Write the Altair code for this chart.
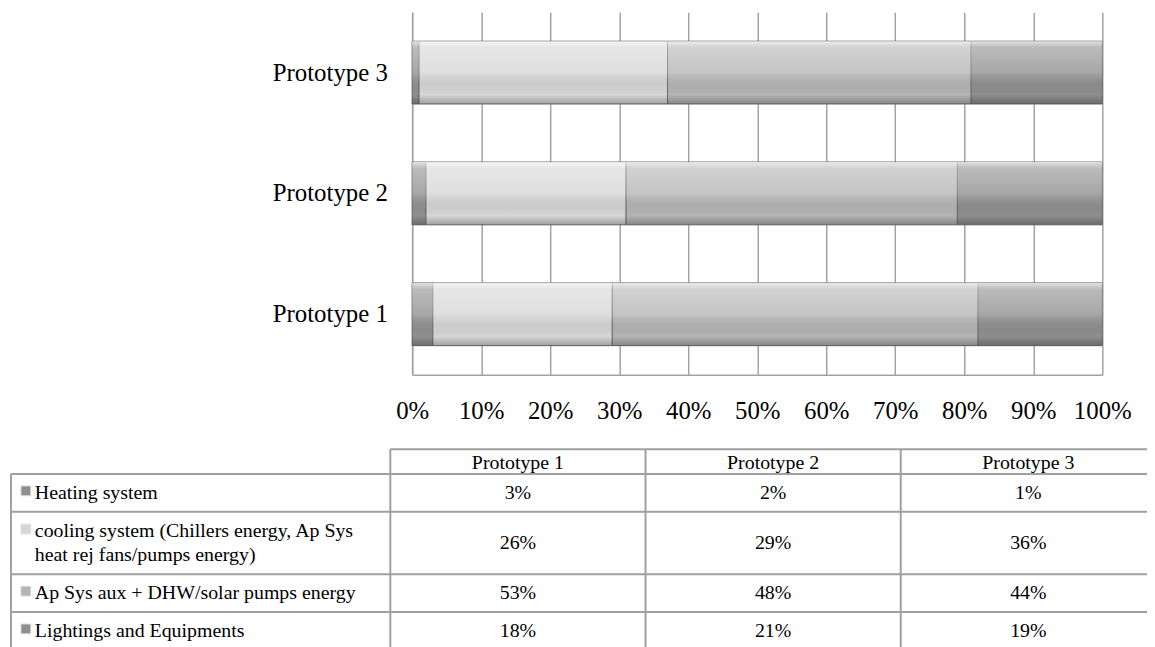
import altair as alt
import pandas as pd

# ---------------- data ----------------
prototypes = ["Prototype 1", "Prototype 2", "Prototype 3"]
series_lines = [
    ["Heating system"],
    ["cooling system (Chillers energy, Ap Sys", "heat rej fans/pumps energy)"],
    ["Ap Sys aux + DHW/solar pumps energy"],
    ["Lightings and Equipments"],
]
heating = [3, 2, 1]
cooling = [26, 29, 36]
ap_sys = [53, 48, 44]
lightings = [18, 21, 19]
x_ticks = [0, 0.1, 0.2, 0.3, 0.4, 0.5, 0.6, 0.7, 0.8, 0.9, 1.0]

series = [" ".join(l) for l in series_lines]
values = [heating, cooling, ap_sys, lightings]

# ---------------- styles / layout ----------------
series_colors = ["#8f8f8f", "#d6d6d6", "#b4b4b4", "#8e8e8e"]
grid_grey = "#a3a3a3"
table_grey = "#a0a0a0"
serif = "Liberation Serif"

PLOT_L, PLOT_T = 415, 10          # page position of the plot area
W, H = 695, 365
TOTAL_W, TOTAL_H = 1147, 639
TABLE_TOP = 450
HEADER_H = 25
LINE_H = 24
COL_X = [11, 393, 650, 907, 1164]


def rx(px):
    return px - PLOT_L


def ry(py):
    return py - PLOT_T


# bars
bar_rows = []
for i, s in enumerate(series):
    for j, p in enumerate(prototypes):
        bar_rows.append({"proto": p, "series": s, "idx": i, "value": values[i][j]})
bar_df = pd.DataFrame(bar_rows)

# table geometry
row_tops = [TABLE_TOP, TABLE_TOP + HEADER_H]
for lines in series_lines:
    row_tops.append(row_tops[-1] + 13 + 25 * len(lines))

rule_rows = []
for k, y in enumerate(row_tops):
    x_start = COL_X[1] if k == 0 else COL_X[0]
    rule_rows.append({"x1": rx(x_start), "x2": rx(COL_X[-1]), "y1": ry(y), "y2": ry(y)})
rule_rows.append({"x1": rx(COL_X[0]), "x2": rx(COL_X[0]), "y1": ry(row_tops[1]), "y2": ry(row_tops[-1])})
for cx in COL_X[1:-1]:
    rule_rows.append({"x1": rx(cx), "x2": rx(cx), "y1": ry(row_tops[0]), "y2": ry(row_tops[-1])})
rule_df = pd.DataFrame(rule_rows)

center_rows = []
for j, p in enumerate(prototypes):
    cx = (COL_X[j + 1] + COL_X[j + 2]) / 2
    center_rows.append({"tx": rx(cx), "ty": ry((row_tops[0] + row_tops[1]) / 2 + 1), "label": p})
    for i in range(len(series)):
        cy = (row_tops[i + 1] + row_tops[i + 2]) / 2
        center_rows.append({"tx": rx(cx), "ty": ry(cy), "label": f"{values[i][j]}%"})
center_df = pd.DataFrame(center_rows)

label_rows = []
icon_rows = []
for i, (s, lines) in enumerate(zip(series, series_lines)):
    cy = (row_tops[i + 1] + row_tops[i + 2]) / 2
    first = cy - LINE_H / 2 * (len(lines) - 1)
    label_rows.append({"tx": rx(35), "ty": ry(first), "label": "\n".join(lines)})
    icon_rows.append({"tx": rx(26), "ty": ry(first - 2), "series": s})
label_df = pd.DataFrame(label_rows)
icon_df = pd.DataFrame(icon_rows)

# ---------------- chart ----------------
color = alt.Color("series:N", scale=alt.Scale(domain=series, range=series_colors), legend=None)
x_enc = alt.X(
    "value:Q",
    stack="normalize",
    scale=alt.Scale(domain=[0, 1]),
    axis=alt.Axis(
        values=x_ticks, format=".0%", title=None, grid=True, gridColor=grid_grey,
        gridWidth=1.5, domainColor=grid_grey, domainWidth=1.5, ticks=False,
        labelPadding=24, labelFont=serif, labelFontSize=25,
        labelColor="#000000", labelOverlap=False, labelFlush=False,
    ),
)
y_enc = alt.Y(
    "proto:N",
    sort=["Prototype 3", "Prototype 2", "Prototype 1"],
    scale=alt.Scale(paddingInner=0.48, paddingOuter=0.24),
    axis=alt.Axis(
        title=None, ticks=False, labelPadding=25, labelFont=serif, labelFontSize=25,
        labelColor="#000000", domainColor=grid_grey, domainWidth=1.5, grid=False,
    ),
)
order = alt.Order("idx:Q")

shade_grad = alt.Gradient(
    gradient="linear", x1=0, x2=0, y1=0, y2=1,
    stops=[
        alt.GradientStop(color="rgba(255,255,255,0.75)", offset=0),
        alt.GradientStop(color="rgba(255,255,255,0.4)", offset=0.1),
        alt.GradientStop(color="rgba(255,255,255,0.22)", offset=0.5),
        alt.GradientStop(color="rgba(0,0,0,0.0)", offset=0.85),
        alt.GradientStop(color="rgba(0,0,0,0.25)", offset=1),
    ],
)

bars = alt.Chart(bar_df).mark_bar(stroke="#6e6e6e", strokeWidth=1).encode(
    x=x_enc, y=y_enc, color=color, order=order
)
shade = alt.Chart(bar_df).mark_bar(fill=shade_grad, strokeWidth=0).encode(
    x=x_enc, y=y_enc, detail="series:N", order=order
)

px_x = lambda f: alt.X(f, type="quantitative", scale=None, axis=None)
px_y = lambda f: alt.Y(f, type="quantitative", scale=None, axis=None)

table_rules = alt.Chart(rule_df).mark_rule(color=table_grey, strokeWidth=2).encode(
    x=px_x("x1"), x2="x2", y=px_y("y1"), y2="y2"
)
center_text = alt.Chart(center_df).mark_text(
    font=serif, fontSize=20, color="#000000", align="center", baseline="middle"
).encode(x=px_x("tx"), y=px_y("ty"), text="label:N")
label_text = alt.Chart(label_df).mark_text(
    font=serif, fontSize=20, color="#000000", align="left", baseline="middle",
    lineBreak="\n", lineHeight=LINE_H,
).encode(x=px_x("tx"), y=px_y("ty"), text="label:N")
icons = alt.Chart(icon_df).mark_square(size=100, opacity=1, stroke="#e4e4e4", strokeWidth=1).encode(
    x=px_x("tx"), y=px_y("ty"), color=color
)

chart = alt.layer(bars, shade, table_rules, center_text, label_text, icons).properties(
    width=W,
    height=H,
    autosize=alt.AutoSizeParams(type="none"),
    padding={"left": PLOT_L - 8, "top": PLOT_T - 8,
             "right": TOTAL_W - (PLOT_L - 8) - W, "bottom": TOTAL_H - (PLOT_T - 8) - H},
).configure_view(stroke=None)

chart.save("out.html", embed_options={"renderer": "svg", "actions": False})
